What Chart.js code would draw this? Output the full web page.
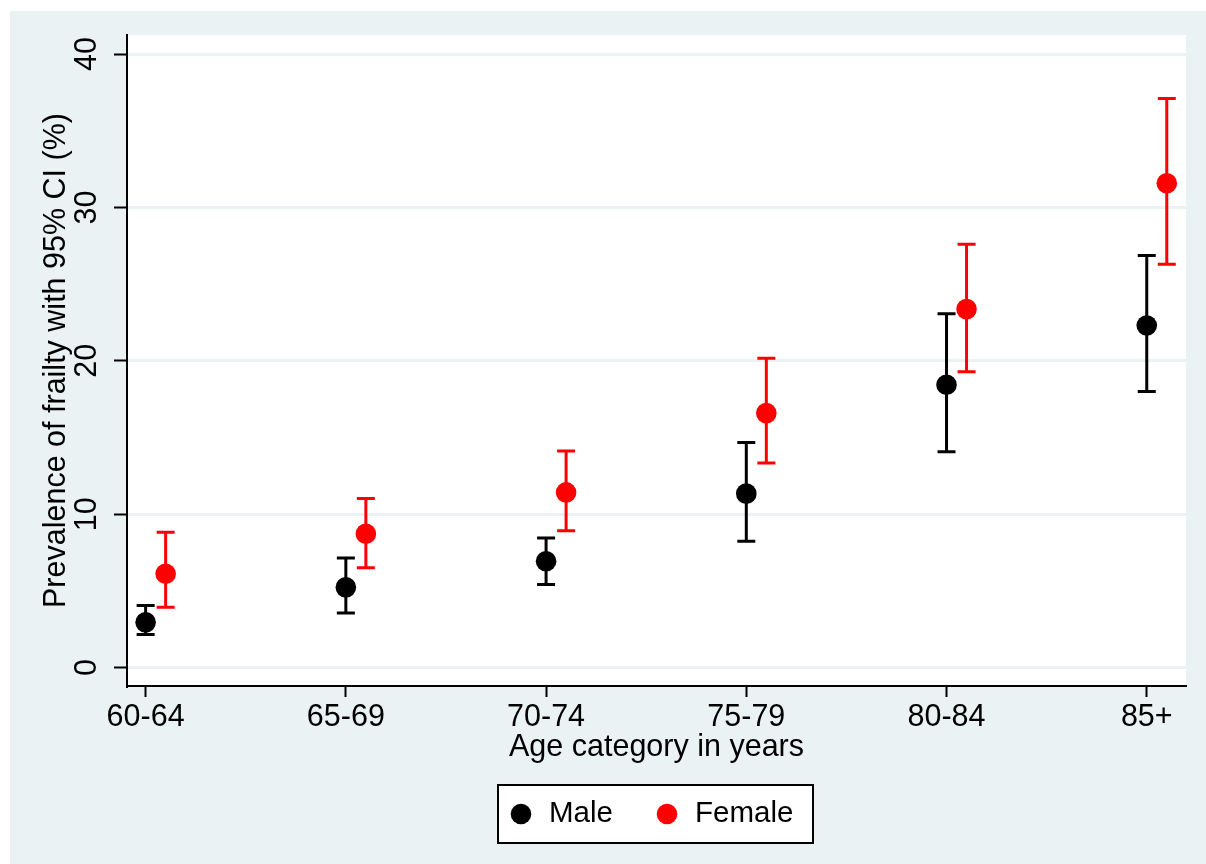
<!DOCTYPE html>
<html>
<head>
<meta charset="utf-8">
<title>Prevalence of frailty by age category</title>
<script src="https://cdn.jsdelivr.net/npm/chart.js@4.4.0/dist/chart.umd.min.js"></script>
<style>
  html, body { margin: 0; padding: 0; background: #ffffff; }
  #chart { display: block; }
</style>
</head>
<body>
<canvas id="chart" width="1206" height="864"></canvas>
<script>
// Data (prevalence %, with 95% CI)
const categories = ['60-64', '65-69', '70-74', '75-79', '80-84', '85+'];
const yTicks = [0, 10, 20, 30, 40];

const maleEst = [2.95, 5.23, 6.93, 11.34, 18.44, 22.3];
const maleLo  = [2.15, 3.56, 5.41, 8.23, 14.07, 18.0];
const maleHi  = [4.04, 7.15, 8.45, 14.68, 23.06, 26.86];

const femaleEst = [6.12, 8.73, 11.42, 16.59, 23.37, 31.58];
const femaleLo  = [3.93, 6.51, 8.92, 13.33, 19.28, 26.3];
const femaleHi  = [8.82, 11.03, 14.12, 20.17, 27.6, 37.1];

const FONT = "'Liberation Sans', Arial, sans-serif";
const AXIS_SIZE = 30.5;
const BG = '#eaf2f3';   // Stata ltbluishgray

Chart.defaults.font.family = FONT;
Chart.defaults.color = '#000';

function points(est, shift) {
    return est.map((v, i) => ({ x: i + shift, y: v }));
}

// backgrounds: outer graph region + white plot region
const backgroundPlugin = {
    id: 'stataBackground',
    beforeDraw(chart) {
        const { ctx, chartArea: a } = chart;
        ctx.save();
        ctx.fillStyle = '#ffffff';
        ctx.fillRect(0, 0, chart.width, chart.height);
        ctx.fillStyle = BG;
        ctx.fillRect(10, 11, chart.width - 10, chart.height - 11);
        ctx.fillStyle = '#ffffff';
        ctx.fillRect(a.left, a.top, a.right - a.left, a.bottom - a.top);
        ctx.restore();
    }
};

// vertical CI bars with caps
const errorBarPlugin = {
    id: 'errorBars',
    beforeDatasetsDraw(chart) {
        const { ctx, scales: { x, y } } = chart;
        ctx.save();
        ctx.lineWidth = 3;
        chart.data.datasets.forEach(ds => {
            ctx.strokeStyle = ds.backgroundColor;
            ds.data.forEach((p, i) => {
                const px = x.getPixelForValue(p.x);
                const yLo = y.getPixelForValue(ds.ciLo[i]);
                const yHi = y.getPixelForValue(ds.ciHi[i]);
                ctx.beginPath();
                ctx.moveTo(px, yLo); ctx.lineTo(px, yHi);
                ctx.moveTo(px - 9, yLo); ctx.lineTo(px + 9, yLo);
                ctx.moveTo(px - 9, yHi); ctx.lineTo(px + 9, yHi);
                ctx.stroke();
            });
        });
        ctx.restore();
    }
};

// rotated y tick labels (Stata draws them vertical) + boxed legend
const labelsPlugin = {
    id: 'stataLabels',
    afterDraw(chart) {
        const { ctx, chartArea: a, scales: { y } } = chart;
        ctx.save();
        ctx.fillStyle = '#000';
        ctx.font = AXIS_SIZE + 'px ' + FONT;
        ctx.textAlign = 'center';
        ctx.textBaseline = 'middle';
        yTicks.forEach(v => {
            ctx.save();
            ctx.translate(88, y.getPixelForValue(v));
            ctx.rotate(-Math.PI / 2);
            ctx.fillText(String(v), 0, 0);
            ctx.restore();
        });

        // legend
        const cx = (a.left + a.right) / 2;
        const top = a.bottom + 99;
        const h = 58;
        const left = cx - 158.5, right = cx + 156.5;
        ctx.fillStyle = '#ffffff';
        ctx.fillRect(left, top, right - left, h);
        ctx.strokeStyle = '#000';
        ctx.lineWidth = 2;
        ctx.strokeRect(left, top, right - left, h);

        ctx.font = '29.5px ' + FONT;
        const midY = top + h / 2;
        const dotX = [cx - 135.5, cx + 10.5];
        ctx.textAlign = 'left';
        chart.data.datasets.forEach((ds, i) => {
            ctx.fillStyle = ds.backgroundColor;
            ctx.beginPath();
            ctx.arc(dotX[i], midY, 10.3, 0, Math.PI * 2);
            ctx.fill();
            ctx.fillStyle = '#000';
            ctx.fillText(ds.label, dotX[i] + 28, midY);
        });
        ctx.restore();
    }
};

new Chart(document.getElementById('chart'), {
    type: 'scatter',
    data: {
        datasets: [
            {
                label: 'Male',
                data: points(maleEst, 0),
                ciLo: maleLo,
                ciHi: maleHi,
                backgroundColor: '#000000',
                pointRadius: 10.3,
                pointBorderWidth: 0,
            },
            {
                label: 'Female',
                data: points(femaleEst, 0.1),
                ciLo: femaleLo,
                ciHi: femaleHi,
                backgroundColor: '#ff0000',
                pointRadius: 10.3,
                pointBorderWidth: 0,
            },
        ],
    },
    options: {
        responsive: false,
        animation: false,
        layout: { padding: { top: 35, right: 20, left: 0, bottom: 0 } },
        plugins: {
            legend: { display: false },
            tooltip: { enabled: false },
        },
        scales: {
            x: {
                type: 'linear',
                min: -0.093,
                max: 5.196,
                afterBuildTicks: (scale) => { scale.ticks = categories.map((c, i) => ({ value: i })); },
                afterFit: (scale) => { scale.height = 178; },
                grid: {
                    drawOnChartArea: false,
                    drawTicks: true,
                    tickLength: 11,
                    tickWidth: 2,
                    tickColor: '#000',
                },
                border: { display: true, color: '#000', width: 2 },
                ticks: {
                    font: { size: AXIS_SIZE },
                    color: '#000',
                    padding: 2,
                    maxRotation: 0,
                    autoSkip: false,
                    callback: (v) => categories[v],
                },
                title: {
                    display: true,
                    text: 'Age category in years',
                    font: { size: AXIS_SIZE },
                    color: '#000',
                    padding: { top: 0, bottom: 97.7 },
                },
            },
            y: {
                min: -1.2,
                max: 41.24,
                afterBuildTicks: (scale) => { scale.ticks = yTicks.map(v => ({ value: v })); },
                afterFit: (scale) => { scale.width = 127; },
                grid: {
                    color: BG,
                    lineWidth: 3,
                    drawTicks: true,
                    tickLength: 13,
                    tickWidth: 2,
                    tickColor: '#000',
                },
                border: { display: true, color: '#000', width: 2 },
                ticks: { display: false },
                title: {
                    display: true,
                    text: 'Prevalence of frailty with 95% CI (%)',
                    font: { size: AXIS_SIZE },
                    color: '#000',
                    padding: { top: 38.7, bottom: 0 },
                },
            },
        },
    },
    plugins: [backgroundPlugin, errorBarPlugin, labelsPlugin],
});
</script>
</body>
</html>
